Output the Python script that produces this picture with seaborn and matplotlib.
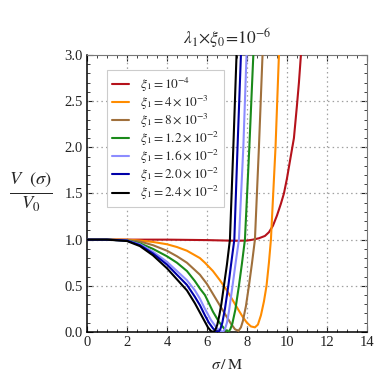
import numpy as np
import pandas as pd
import matplotlib
matplotlib.use("Agg")
import matplotlib.pyplot as plt
from matplotlib.ticker import MultipleLocator
import seaborn as sns

# curves, one (x, y) pair of lists per xi_1 value
red_x = [0, 2, 4, 6, 7, 7.5, 8.0, 8.3, 8.6, 8.9, 9.1, 9.3, 9.5, 9.7, 9.85, 10.0, 10.15, 10.35, 10.5, 10.6, 10.7, 10.75]
red_y = [1.0, 1.0, 1.0, 0.995, 0.99, 0.988, 0.99, 1.0, 1.015, 1.04, 1.08, 1.15, 1.26, 1.39, 1.5, 1.66, 1.85, 2.1, 2.45, 2.7, 3.0, 3.2]

orange_x = [0, 1, 2, 2.65, 3.3, 4, 4.5, 5, 5.65, 5.9, 6.3, 6.65, 7.0, 7.3, 7.6, 7.8, 8.0, 8.2, 8.4,
            8.55, 8.7, 8.85, 8.98, 9.1, 9.2, 9.43, 9.6, 9.65]
orange_y = [1.0, 1.0, 1.0, 0.99, 0.975, 0.95, 0.92, 0.88, 0.80, 0.75, 0.66, 0.56, 0.45, 0.34, 0.23, 0.16, 0.1, 0.06, 0.05,
            0.08, 0.18, 0.33, 0.5, 0.75, 1.0, 2.0, 3.0, 3.3]

brown_x = [0, 1, 2, 2.65, 3.3, 4, 4.5, 5, 5.4, 5.65, 6.0, 6.5, 7.0, 7.2, 7.4, 7.57,
           7.7, 7.8, 7.95, 8.1, 8.25, 8.4, 8.6, 8.78, 8.83]
brown_y = [1.0, 1.0, 0.995, 0.98, 0.94, 0.88, 0.82, 0.75, 0.67, 0.62, 0.52, 0.34, 0.16, 0.09, 0.03, 0.01,
           0.05, 0.12, 0.28, 0.5, 0.74, 1.0, 2.0, 3.0, 3.3]

green_x = [0, 1, 2, 2.65, 3.3, 4, 4.5, 5, 5.4, 5.65, 5.9, 6.3, 6.6, 6.85, 6.97, 7.07,
           7.17, 7.27, 7.42, 7.6, 7.75, 7.9, 8.12, 8.32, 8.37]
green_y = [1.0, 1.0, 0.99, 0.96, 0.9, 0.82, 0.75, 0.66, 0.55, 0.47, 0.40, 0.22, 0.11, 0.04, 0.015, 0.0,
           0.03, 0.09, 0.24, 0.5, 0.74, 1.0, 2.0, 3.0, 3.3]

lblue_x = [0, 1, 2, 2.65, 3.3, 4, 4.5, 5, 5.4, 5.65, 5.9, 6.2, 6.5, 6.65, 6.8,
           6.9, 7.0, 7.1, 7.28, 7.43, 7.6, 7.82, 7.98, 8.03]
lblue_y = [1.0, 1.0, 0.99, 0.95, 0.87, 0.76, 0.66, 0.56, 0.45, 0.36, 0.25, 0.13, 0.04, 0.015, 0.0,
           0.03, 0.1, 0.22, 0.5, 0.74, 1.0, 2.0, 3.0, 3.3]

blue_x = [0, 1, 2, 2.65, 3.3, 4, 4.5, 5, 5.4, 5.65, 5.9, 6.1, 6.3, 6.45, 6.57,
          6.67, 6.77, 6.9, 7.07, 7.2, 7.37, 7.53, 7.7, 7.75]
blue_y = [1.0, 1.0, 0.99, 0.94, 0.85, 0.73, 0.62, 0.51, 0.38, 0.29, 0.18, 0.1, 0.04, 0.01, 0.0,
          0.03, 0.1, 0.25, 0.5, 0.72, 1.0, 2.0, 3.0, 3.3]

black_x = [0, 1, 2, 2.65, 3.3, 4, 4.5, 5, 5.4, 5.65, 5.9, 6.05, 6.2, 6.32,
           6.42, 6.52, 6.62, 6.72, 6.85, 7.0, 7.15, 7.32, 7.48, 7.55]
black_y = [1.0, 1.0, 0.985, 0.93, 0.83, 0.69, 0.57, 0.45, 0.31, 0.21, 0.11, 0.05, 0.01, 0.0,
           0.02, 0.08, 0.18, 0.3, 0.5, 0.73, 1.0, 2.0, 3.0, 3.4]

labels = [r"$\xi_1=10^{-4}$", r"$\xi_1=4\times10^{-3}$", r"$\xi_1=8\times10^{-3}$",
          r"$\xi_1=1.2\times10^{-2}$", r"$\xi_1=1.6\times10^{-2}$",
          r"$\xi_1=2.0\times10^{-2}$", r"$\xi_1=2.4\times10^{-2}$"]
colors = ["#b5121b", "#ff8c00", "#a0703c", "#1a8a1a", "#8c8cff", "#0000a8", "#000000"]
xs = [red_x, orange_x, brown_x, green_x, lblue_x, blue_x, black_x]
ys = [red_y, orange_y, brown_y, green_y, lblue_y, blue_y, black_y]

sns.set_style("ticks")
plt.rcParams['font.family'] = ['Liberation Serif', 'DejaVu Serif']
plt.rcParams['mathtext.fontset'] = 'stix'

fig = plt.figure(figsize=(3.83, 3.82), dpi=100)
ax = fig.add_axes([0.227, 0.131, 0.731, 0.725])

for x, y, lab, c in zip(xs, ys, labels, colors):
    df = pd.DataFrame({'x': x, 'y': y})
    sns.lineplot(data=df, x='x', y='y', ax=ax, color=c, lw=1.5, label=lab,
                 estimator=None, sort=False, zorder=3)

ax.set_xlim(0, 14)
ax.set_ylim(0, 3)
ax.xaxis.set_major_locator(MultipleLocator(2))
ax.xaxis.set_minor_locator(MultipleLocator(0.5))
ax.yaxis.set_major_locator(MultipleLocator(0.5))
ax.yaxis.set_minor_locator(MultipleLocator(0.1))
ax.set_xticklabels([f"{v:g}" for v in ax.get_xticks()])
ax.set_yticklabels([f"{v:.1f}" for v in ax.get_yticks()])

for gx in range(2, 14, 2):
    ax.axvline(gx, color="#a0a0a0", lw=0.9, ls=(0, (1.2, 2.5)), zorder=1)
for gy in [0.5, 1.0, 1.5, 2.0, 2.5]:
    ax.axhline(gy, color="#a0a0a0", lw=0.9, ls=(0, (1.2, 2.5)), zorder=1)

ax.tick_params(which='both', direction='in', top=True, right=True, colors="#222222",
               labelsize=10.5, pad=3)
ax.tick_params(which='major', length=4, width=0.8)
ax.tick_params(which='minor', length=2.2, width=0.6)
for s in ['left', 'bottom']:
    ax.spines[s].set_color('black')
    ax.spines[s].set_linewidth(1.1)
for s in ['top', 'right']:
    ax.spines[s].set_color('#777777')
    ax.spines[s].set_linewidth(0.8)

ax.set_title(r"$\lambda_1\!\times\!\xi_0\!=\!10^{-6}$", fontsize=12.5, pad=8)
ax.set_xlabel(r"$\sigma\,/\,\mathrm{M}$", fontsize=11.5, labelpad=6)
ax.set_ylabel(r"$\frac{V\ \ (\sigma)}{V_0}$", fontsize=19, rotation=0, ha='center', va='center')
ax.yaxis.set_label_coords(-0.2, 0.505)

leg = ax.legend(loc='upper left', bbox_to_anchor=(0.07, 0.945), fontsize=9.5,
                frameon=True, fancybox=False, edgecolor="#cccccc", framealpha=1,
                handlelength=1.3, handletextpad=0.8, labelspacing=0.0,
                borderpad=0.4, borderaxespad=0)
leg.get_frame().set_linewidth(0.8)
leg.set_zorder(4)

fig.savefig("out.png", dpi=100)
